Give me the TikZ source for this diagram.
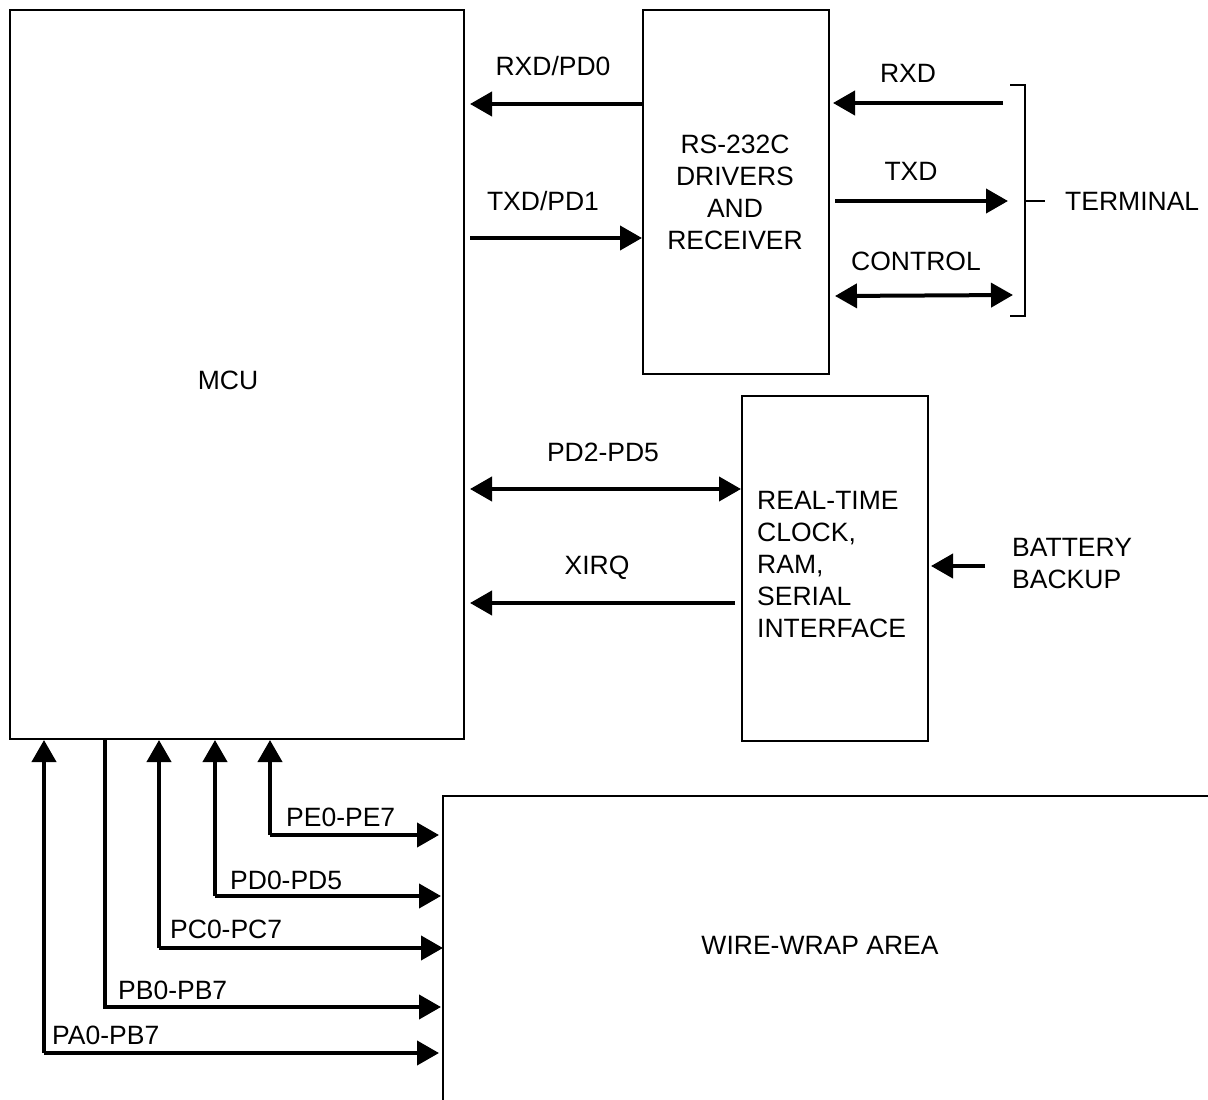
\documentclass[tikz,border=0pt]{standalone}
\usepackage{fontspec}
\setmainfont{Liberation Sans}
\usetikzlibrary{arrows.meta}
\begin{document}
\begin{tikzpicture}[x=1pt,y=-1pt,
  box/.style={draw,line width=2pt},
  sig/.style={line width=4pt,-{Triangle[length=22pt,width=24pt]}},
  bisig/.style={line width=4pt,{Triangle[length=22pt,width=24pt]}-{Triangle[length=22pt,width=24pt]}},
  lbl/.style={inner sep=0pt,font=\fontsize{26.5}{32}\selectfont},
  thin/.style={line width=2pt}]
\useasboundingbox (0,0) rectangle (1208,1100);
% boxes
\node[box,minimum width=454pt,minimum height=729pt,anchor=north west,inner sep=0pt] (mcu) at (9,9) {};
\node[lbl] (mculbl) at (228,380) {MCU};
\node[box,minimum width=186pt,minimum height=364pt,anchor=north west,inner sep=0pt] (rs) at (642,9) {};
\node[lbl,align=center] (rslbl) at (735,192) {RS-232C\\DRIVERS\\AND\\RECEIVER};
\node[box,minimum width=186pt,minimum height=345pt,anchor=north west,inner sep=0pt] (rtc) at (741,395) {};
\node[lbl,align=left,anchor=west] (rtclbl) at (757,565) {REAL-TIME\\CLOCK,\\RAM,\\SERIAL\\INTERFACE};
% wire-wrap area (open on right and bottom)
\coordinate (ww1) at (443,1102);
\coordinate (ww2) at (443,796);
\coordinate (ww3) at (1210,796);
\draw[thin] (ww1) -- (ww2) -- (ww3);
\node[lbl] (wwlbl) at (820,945) {WIRE-WRAP AREA};
% MCU <-> RS232
\coordinate (a1s) at (642,104); \coordinate (a1e) at (470,104);
\draw[sig] (a1s) -- (a1e);
\node[lbl] (l1) at (553,66) {RXD/PD0};
\coordinate (a2s) at (470,238); \coordinate (a2e) at (642,238);
\draw[sig] (a2s) -- (a2e);
\node[lbl] (l2) at (543,201) {TXD/PD1};
% terminal side
\coordinate (t1s) at (1003,103); \coordinate (t1e) at (833,103);
\draw[sig] (t1s) -- (t1e);
\node[lbl] (tl1) at (908,73) {RXD};
\coordinate (t2s) at (835,201); \coordinate (t2e) at (1008,201);
\draw[sig] (t2s) -- (t2e);
\node[lbl] (tl2) at (911,171) {TXD};
\coordinate (t3s) at (835,296); \coordinate (t3e) at (1013,295);
\draw[bisig] (t3s) -- (t3e);
\node[lbl] (tl3) at (916,261) {CONTROL};
% bracket
\coordinate (b1) at (1010,85); \coordinate (b2) at (1025,85);
\coordinate (b3) at (1025,316); \coordinate (b4) at (1010,316);
\draw[thin] (b1) -- (b2) -- (b3) -- (b4);
\coordinate (bt1) at (1025,201); \coordinate (bt2) at (1045,201);
\draw[thin] (bt1) -- (bt2);
\node[lbl,anchor=west] (term) at (1065,201) {TERMINAL};
% MCU <-> RTC
\coordinate (p1s) at (470,489); \coordinate (p1e) at (741,489);
\draw[bisig] (p1s) -- (p1e);
\node[lbl] (pl1) at (603,452) {PD2-PD5};
\coordinate (x1s) at (735,603); \coordinate (x1e) at (470,603);
\draw[sig] (x1s) -- (x1e);
\node[lbl] (xl1) at (597,568) {XIRQ};
\coordinate (bbs) at (985,566); \coordinate (bbe) at (931,566);
\draw[sig] (bbs) -- (bbe);
\node[lbl,align=left,anchor=west] (bbl) at (1012,564) {BATTERY\\BACKUP};
% ports to wire-wrap
\coordinate (pa0) at (44,740); \coordinate (pa1) at (44,1053); \coordinate (pa2) at (439,1053);
\draw[sig] (pa1) -- (pa0);
\draw[sig] (pa1) -- (pa2);
\node[lbl,anchor=west] (pal) at (52,1035) {PA0-PB7};
\coordinate (pb0) at (105,738); \coordinate (pb1) at (105,1007); \coordinate (pb2) at (441,1007);
\draw[sig] (pb0) -- (pb1) -- (pb2);
\node[lbl,anchor=west] (pbl) at (118,990) {PB0-PB7};
\coordinate (pc0) at (159,740); \coordinate (pc1) at (159,948); \coordinate (pc2) at (443,948);
\draw[sig] (pc1) -- (pc0);
\draw[sig] (pc1) -- (pc2);
\node[lbl,anchor=west] (pcl) at (170,929) {PC0-PC7};
\coordinate (pd0) at (215,740); \coordinate (pd1) at (215,896); \coordinate (pd2) at (441,896);
\draw[sig] (pd1) -- (pd0);
\draw[sig] (pd1) -- (pd2);
\node[lbl,anchor=west] (pdl) at (230,880) {PD0-PD5};
\coordinate (pe0) at (270,740); \coordinate (pe1) at (270,835); \coordinate (pe2) at (439,835);
\draw[sig] (pe1) -- (pe0);
\draw[sig] (pe1) -- (pe2);
\node[lbl,anchor=west] (pel) at (286,817) {PE0-PE7};
\end{tikzpicture}
\end{document}
